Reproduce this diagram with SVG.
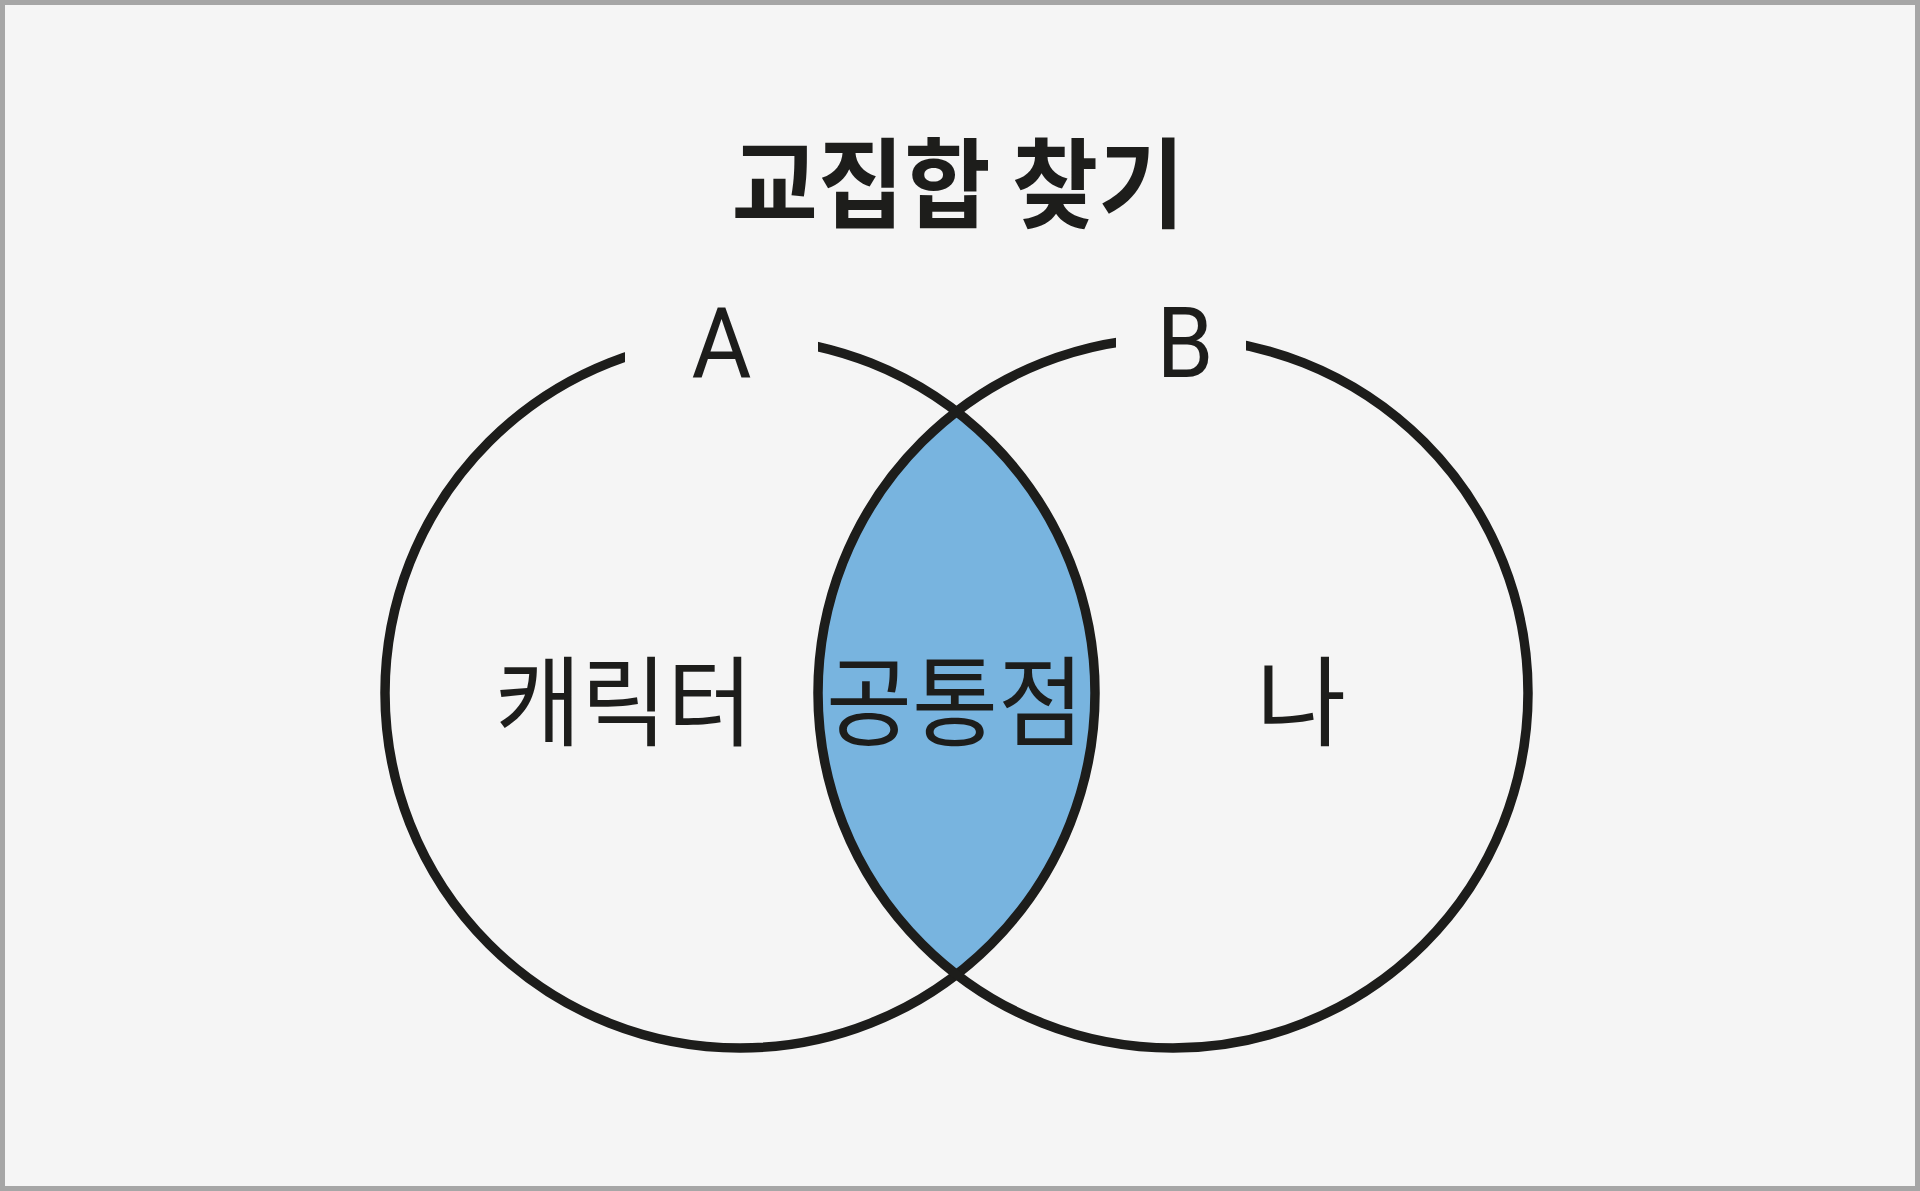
<svg xmlns="http://www.w3.org/2000/svg" width="1920" height="1191" viewBox="0 0 1920 1191">
  <style>
    .bg { fill: #f5f5f5; }
    .frame { fill: none; stroke: #a6a6a6; stroke-width: 5; }
    .ring { fill: none; stroke: #1d1d1b; stroke-width: 9.5; }
    .lens { fill: #78b4df; }
    .mask { fill: #f5f5f5; }
    .title { font-family: "Noto Sans CJK KR", "Noto Sans CJK SC", sans-serif; font-weight: 700; font-size: 98px; fill: #1d1d1b; }
    .label { font-family: "Noto Sans CJK KR", "Noto Sans CJK SC", sans-serif; font-weight: 400; font-size: 98px; fill: #1d1d1b; }
    .letter { font-family: "Roboto", "Liberation Sans", sans-serif; font-weight: 400; font-size: 98px; fill: #1d1d1b; }
  </style>
  <rect class="bg" x="0" y="0" width="1920" height="1191"/>
  <rect class="frame" x="2.5" y="2.5" width="1915" height="1186"/>

  <g id="intersection">
    <path class="lens" d="M956.5 411.7 A355 355 0 0 1 956.5 974.3 A355 355 0 0 1 956.5 411.7 Z"/>
  </g>

  <g id="set-a">
    <circle class="ring" cx="740" cy="693" r="355"/>
    <rect class="mask" x="625" y="318" width="193" height="56"/>
  </g>
  <g id="set-b">
    <circle class="ring" cx="1173" cy="693" r="355"/>
    <rect class="mask" x="1116" y="318" width="130" height="56"/>
  </g>

  <g id="title">
    <text class="title" x="958" y="220" text-anchor="middle" textLength="453" lengthAdjust="spacingAndGlyphs">교집합 찾기</text>
  </g>
  <g id="label-a">
    <text class="letter" x="721.5" y="377" text-anchor="middle" textLength="60" lengthAdjust="spacingAndGlyphs">A</text>
  </g>
  <g id="label-b">
    <text class="letter" x="1185" y="377" text-anchor="middle" textLength="57" lengthAdjust="spacingAndGlyphs">B</text>
  </g>
  <g id="only-a">
    <text class="label" x="624" y="738" text-anchor="middle" textLength="258" lengthAdjust="spacingAndGlyphs">캐릭터</text>
  </g>
  <g id="common">
    <text class="label" x="955" y="738" text-anchor="middle" textLength="258" lengthAdjust="spacingAndGlyphs">공통점</text>
  </g>
  <g id="only-b">
    <text class="label" x="1301" y="738" text-anchor="middle">나</text>
  </g>
</svg>
